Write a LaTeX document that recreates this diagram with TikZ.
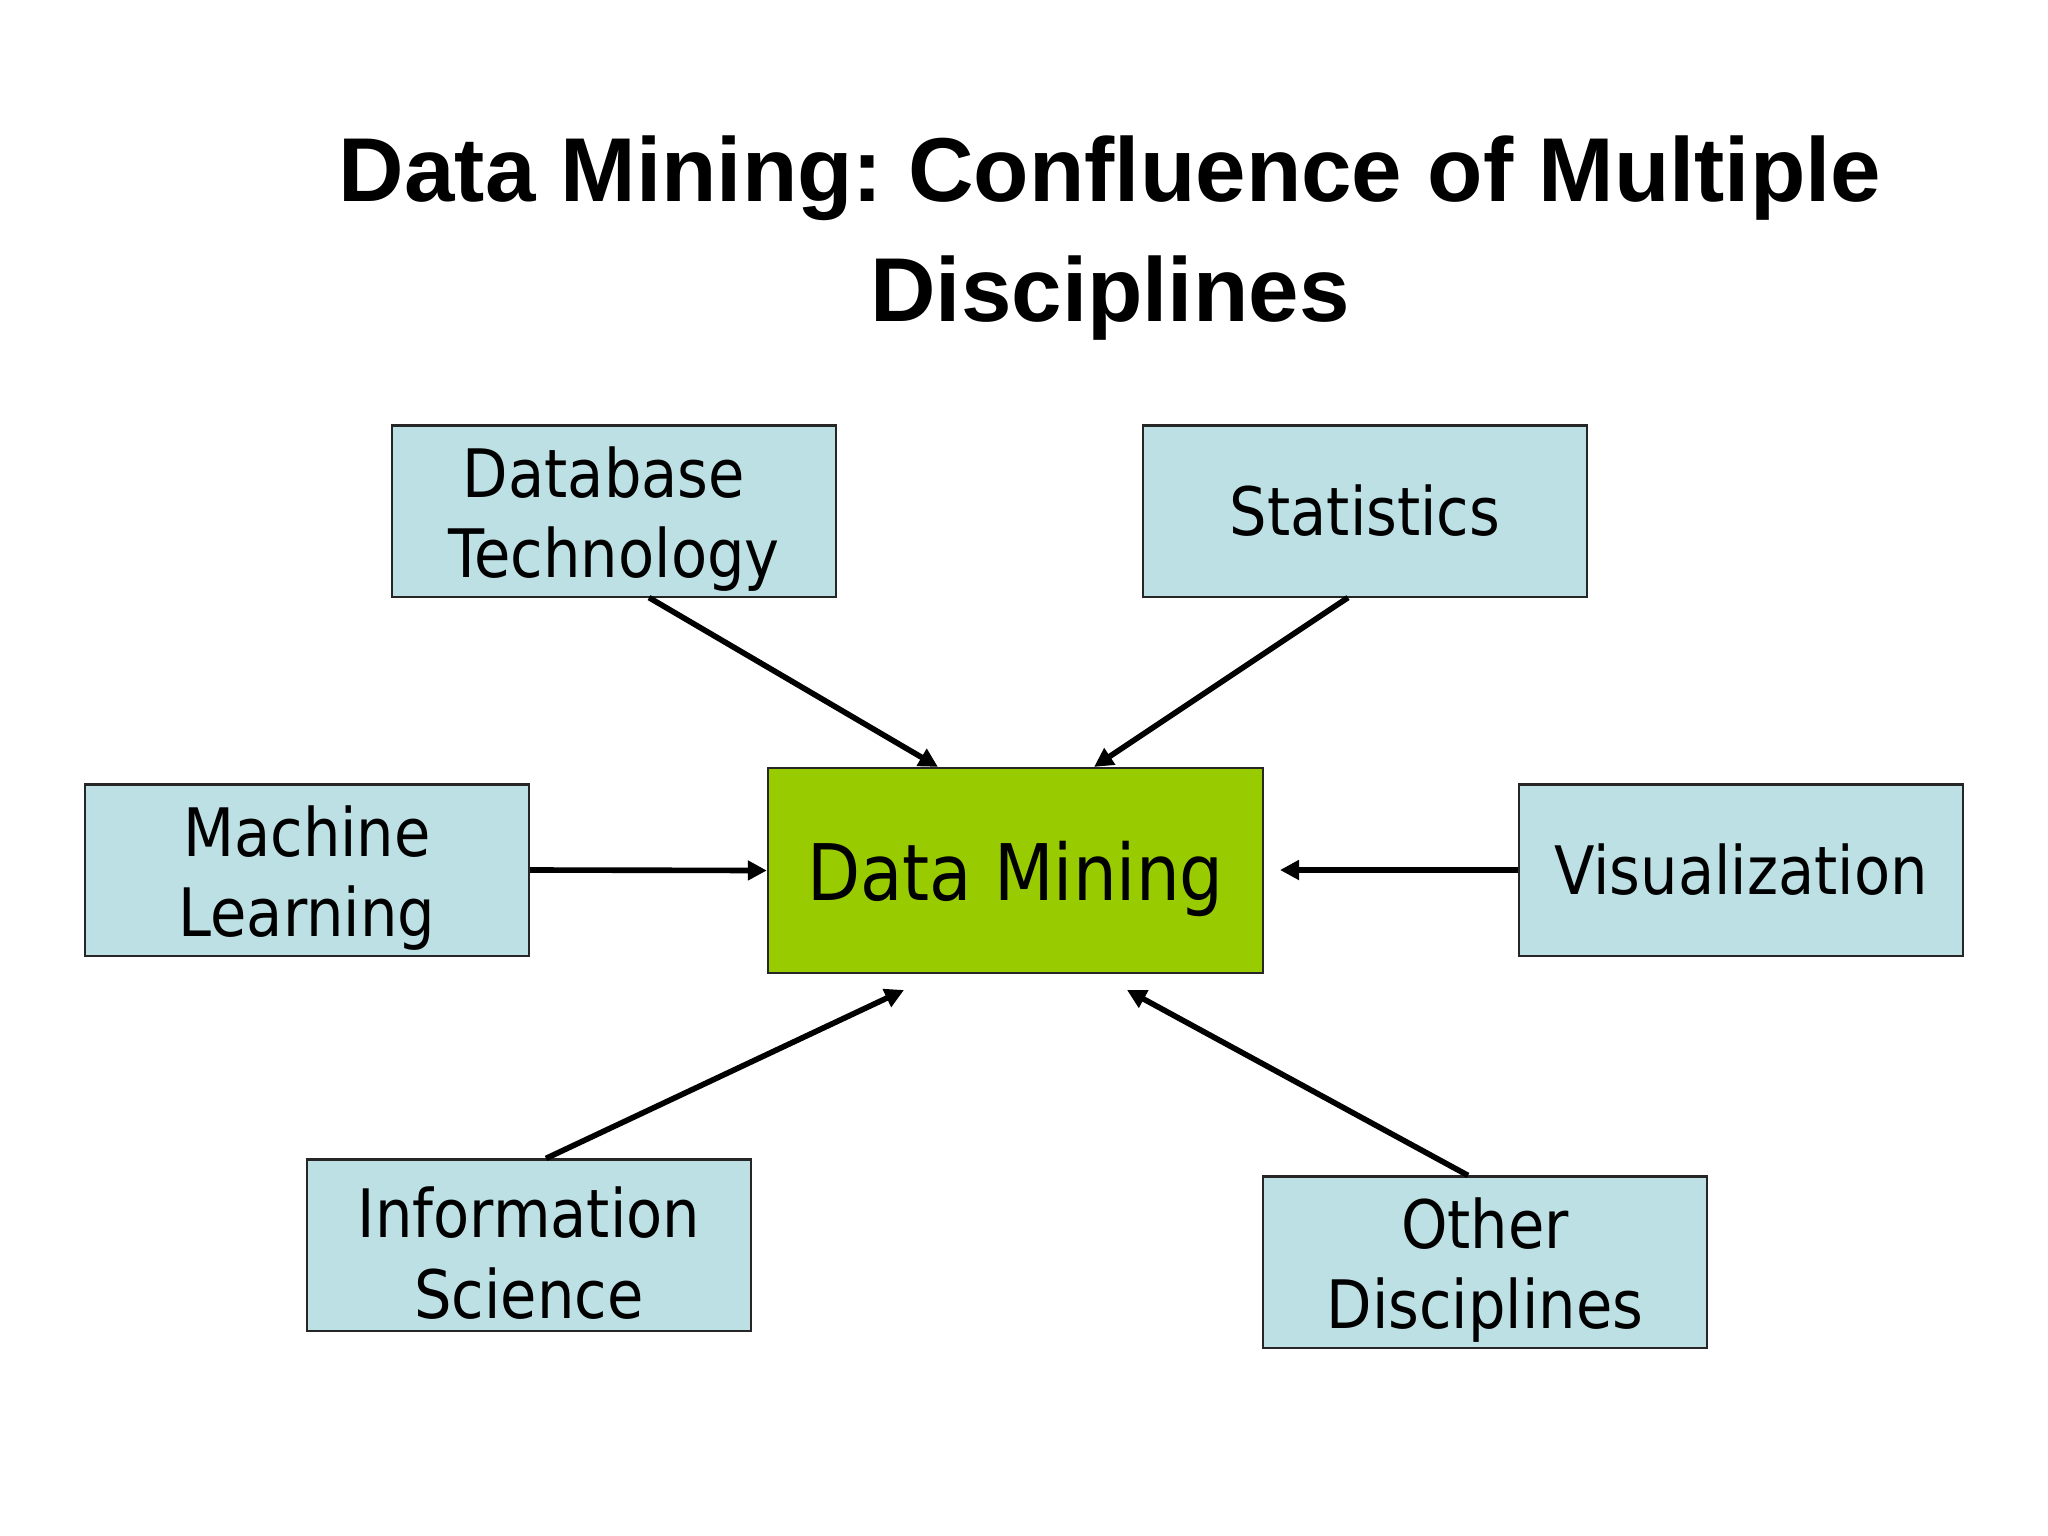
\documentclass[tikz,border=0pt]{standalone}
\usepackage{fontspec}
\usetikzlibrary{arrows.meta,calc}
\setmainfont{Liberation Sans}
\newfontfamily\boxfont[FakeStretch=0.885]{DejaVu Sans}
\definecolor{boxblue}{RGB}{189,224,228}
\definecolor{dmgreen}{RGB}{153,204,0}
\newcommand\topstrut{\rule{0pt}{19pt}}
\newcommand\dmstrut{\rule{0pt}{21.5pt}}
\tikzset{
  disc/.style={draw=black!85, line width=0.6pt, fill=boxblue, minimum width=4.44cm, minimum height=1.71cm, inner sep=0pt, align=center, font=\boxfont\fontsize{19}{22.9}\selectfont},
  core/.style={draw=black!85, line width=0.6pt, fill=dmgreen, minimum width=4.95cm, minimum height=2.05cm, inner sep=0pt, align=center, font=\boxfont\fontsize{22.2}{26}\selectfont},
  conn/.style={line width=1.6pt, -{Triangle[length=0.19cm,width=0.19cm]}}
}
\begin{document}
\frenchspacing
\begin{tikzpicture}[x=0.01cm,y=-0.01cm]
\useasboundingbox (0,0) rectangle (2048,1536);
\node[anchor=base, align=center, font=\bfseries\fontsize{25.8}{33.9}\selectfont] (title) at (1110,321) {Data Mining: Confluence of Multiple\\Disciplines};
\node[disc] (db) at (614,511) {\topstrut Database\hspace*{0.2cm}\\Technology};
\node[disc] (st) at (1365,511) {Statistics};
\node[disc] (ml) at (307,870) {\topstrut Machine\\Learning};
\node[core] (dm) at (1015.5,870.5) {\dmstrut Data Mining};
\node[disc] (vis) at (1741,870) {Visualization};
\node[disc] (is) at (529,1245) {\topstrut Information\\Science};
\node[disc] (od) at (1485,1262) {\topstrut Other\\Disciplines};
\coordinate (visend) at (1280,870);
\coordinate (isend) at (904,990);
\coordinate (odend) at (1127,990);
\draw[conn] ([xshift=0.35cm]db.south) -- ([xshift=-0.775cm]dm.north);
\draw[conn] ([xshift=-0.17cm]st.south) -- ([xshift=0.785cm]dm.north);
\draw[conn] (ml.east) -- (dm.west);
\draw[conn] (vis.west) -- (visend);
\draw[conn] ([xshift=0.17cm]is.north) -- (isend);
\draw[conn] ([xshift=-0.17cm]od.north) -- (odend);
\end{tikzpicture}
\end{document}
